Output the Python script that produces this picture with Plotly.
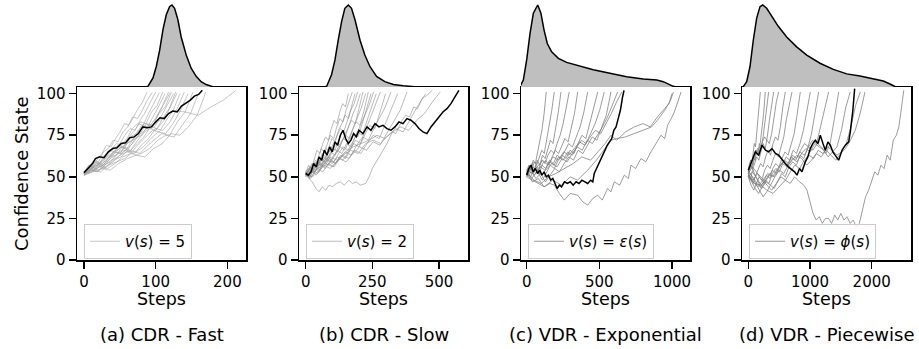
import numpy as np
import plotly.graph_objects as go

W, H = 919, 349

# ---------------- (a) CDR - Fast ----------------
a_black_x = [0, 6, 12, 16, 22, 28, 34, 40, 46, 52, 58, 64, 70, 76, 82, 88, 94, 100, 106, 112, 118, 124, 130, 136, 142, 148, 154, 160, 165]
a_black_y = [52.5, 55, 58, 61, 62, 61.5, 65, 67, 67.5, 70, 70.5, 73.5, 74, 76, 80, 79.5, 80, 83, 85.5, 85, 88, 89.5, 89, 92.5, 94, 96, 98.5, 99.5, 102]
a_gray_ends = [88, 95, 100, 105, 110, 113, 118, 120, 122, 125, 128, 130, 134, 140, 145, 152, 160, 170]
a_gray_vals = [
    [52, 57, 56, 61, 64, 69, 68, 73, 77, 82, 81, 86, 91, 95, 101],
    [53, 56, 60, 59, 65, 67, 72, 71, 77, 80, 86, 85, 90, 96, 100.5],
    [51, 55, 54, 58, 63, 66, 65, 70, 75, 79, 78, 84, 89, 95, 101],
    [52, 54, 59, 58, 61, 66, 70, 69, 73, 79, 82, 81, 88, 94, 100.5],
    [53, 57, 56, 59, 64, 66, 69, 68, 74, 78, 83, 82, 89, 93, 101],
    [51, 54, 57, 56, 60, 65, 68, 67, 74, 76, 81, 80, 87, 93, 100],
    [52, 56, 55, 58, 61, 65, 64, 70, 72, 77, 82, 81, 86, 93, 101],
    [53, 55, 59, 58, 62, 64, 68, 67, 73, 78, 80, 79, 87, 94, 100.5],
    [51, 53, 58, 57, 60, 65, 64, 67, 71, 76, 82, 81, 88, 92, 101],
    [52, 56, 55, 57, 62, 63, 68, 67, 73, 75, 81, 80, 86, 93, 100],
    [52, 54, 53, 56, 61, 63, 66, 65, 71, 76, 79, 78, 85, 91, 101],
    [53, 55, 58, 57, 59, 64, 67, 66, 70, 74, 80, 79, 84, 92, 100.5],
    [51, 54, 53, 57, 60, 62, 66, 65, 70, 74, 78, 77, 84, 90, 100],
    [52, 53, 57, 56, 59, 63, 65, 64, 69, 73, 79, 78, 83, 91, 101],
    [52, 55, 54, 56, 60, 62, 66, 65, 68, 73, 77, 76, 82, 90, 100],
    [51, 53, 56, 55, 58, 62, 64, 63, 68, 72, 76, 75, 83, 89, 101],
    [52, 54, 53, 57, 59, 61, 65, 64, 67, 72, 75, 74, 81, 88, 100.5],
    [51, 53, 55, 54, 58, 61, 63, 62, 67, 70, 76, 75, 80, 87, 101],
]
a_slow_x = [[0, 18, 35, 53, 71, 88, 106, 124, 141, 159, 177, 194, 212]]
a_slow_y = [[52, 57, 63, 68, 73, 79, 84, 90, 89, 87, 92, 96, 102]]
a_kde_x = [86, 89.4, 96.3, 100.9, 105.6, 110.2, 114.8, 119.4, 122.7, 126.4, 131, 135.6, 142.6, 149.5, 156.5, 163.4, 170.4, 179.6, 195, 212]
a_kde_h = [0, 0.01, 0.11, 0.25, 0.45, 0.70, 0.88, 0.98, 1.0, 0.96, 0.82, 0.61, 0.39, 0.23, 0.13, 0.065, 0.03, 0.004, 0.001, 0]

# ---------------- (b) CDR - Slow ----------------
b_black_x = [0, 10, 20, 30, 40, 50, 60, 70, 80, 90, 100, 110, 120, 130, 140, 150, 160, 170, 180, 190, 200, 215, 230, 245, 260, 275, 290, 305, 320, 335, 350, 365, 380, 395, 410, 425, 440, 455, 470, 485, 500, 515, 530, 545, 560, 575]
b_black_y = [52, 51, 53, 58, 56, 62, 60, 66, 63, 68, 65, 71, 69, 75, 78, 73, 70, 72, 76, 74, 78, 76, 80, 78, 82, 80, 81, 79, 78, 80, 83, 82, 85, 84, 82, 79, 77, 76, 80, 83, 86, 89, 91, 94, 98, 102]
b_gray_ends = [160, 175, 185, 195, 205, 215, 225, 235, 245, 255, 265, 280, 300, 320, 345, 380, 450, 505]
b_gray_vals = [
    [52, 57, 55, 61, 66, 64, 70, 74, 72, 79, 84, 82, 89, 94, 92, 100],
    [51, 55, 58, 56, 62, 67, 65, 70, 75, 73, 80, 85, 83, 90, 95, 101],
    [53, 50, 56, 60, 58, 64, 62, 68, 73, 71, 78, 82, 87, 85, 93, 100],
    [52, 55, 53, 59, 57, 63, 67, 65, 70, 75, 79, 77, 84, 90, 94, 101],
    [50, 54, 58, 55, 61, 59, 64, 68, 66, 72, 77, 75, 82, 88, 93, 100],
    [52, 49, 55, 59, 57, 62, 60, 66, 70, 68, 74, 79, 84, 82, 91, 101],
    [51, 55, 52, 57, 61, 59, 63, 67, 65, 71, 75, 73, 80, 86, 92, 100],
    [53, 56, 54, 58, 62, 60, 65, 63, 69, 73, 71, 77, 83, 81, 90, 101],
    [52, 50, 55, 53, 58, 62, 60, 64, 68, 66, 72, 76, 74, 82, 91, 100],
    [50, 53, 57, 55, 59, 57, 62, 66, 64, 70, 68, 74, 80, 86, 93, 101],
    [52, 55, 53, 58, 56, 61, 59, 64, 68, 66, 71, 77, 75, 84, 92, 100],
    [51, 49, 54, 57, 55, 60, 58, 63, 61, 67, 72, 70, 78, 85, 93, 101],
    [52, 54, 51, 56, 60, 58, 62, 60, 65, 70, 68, 75, 81, 79, 90, 100],
    [53, 50, 55, 53, 58, 56, 61, 65, 63, 69, 74, 72, 79, 86, 92, 101],
    [51, 54, 52, 57, 55, 59, 63, 61, 66, 64, 70, 75, 73, 82, 91, 100],
    [52, 50, 54, 58, 56, 61, 59, 64, 68, 66, 71, 69, 76, 83, 90, 101],
    [51, 53, 56, 60, 58, 63, 66, 64, 70, 72, 70, 75, 79, 77, 85, 93, 100],
    [52, 55, 58, 62, 60, 65, 68, 70, 72, 75, 73, 77, 80, 78, 84, 88, 95, 101],
]
b_slow_x = [[0, 12, 25, 38, 50, 62, 75, 88, 100, 115, 130, 145, 162, 175, 190, 205, 225, 238, 250, 268, 287, 305, 325, 338, 350, 362, 375, 390, 405, 420, 437, 455, 475]]
b_slow_y = [[52, 49, 47, 43, 41, 44, 42, 45, 44, 46, 47, 45, 48, 46, 47, 45, 46, 50, 55, 60, 65, 70, 77, 76, 80, 84, 87, 86, 92, 91, 97, 99, 102]]
b_kde_x = [70, 79, 97, 110, 122, 135, 147, 160, 172, 185, 204, 222, 241, 266, 297, 329, 366, 397, 420]
b_kde_h = [0, 0.01, 0.15, 0.33, 0.57, 0.80, 0.96, 1.0, 0.96, 0.82, 0.57, 0.39, 0.25, 0.13, 0.065, 0.03, 0.016, 0.004, 0]

# ---------------- (c) VDR - Exponential ----------------
c_black_x = [0, 15, 30, 45, 60, 75, 90, 105, 120, 135, 150, 165, 180, 195, 210, 225, 240, 260, 280, 300, 320, 340, 360, 380, 400, 420, 440, 455, 465, 480, 495, 510, 525, 540, 555, 570, 585, 600, 615, 630, 645, 660, 670]
c_black_y = [51, 55, 57, 53, 55, 52, 54, 51, 53, 50, 51, 48, 49, 46, 43, 45, 44, 47, 46, 47, 45, 47, 46, 48, 47, 46, 48, 47, 52, 55, 57, 61, 64, 66, 69, 71, 73, 78, 80, 85, 90, 98, 102]
c_gray_ends = [135, 190, 236, 293, 351, 420, 489, 534, 580, 626, 655]
c_gray_vals = [
    [53, 57, 55, 60, 58, 65, 70, 78, 88, 101],
    [51, 56, 54, 59, 57, 62, 66, 64, 72, 80, 90, 101],
    [52, 55, 58, 54, 60, 57, 63, 61, 67, 72, 70, 79, 89, 101],
    [50, 54, 52, 57, 55, 60, 58, 63, 66, 64, 70, 75, 82, 91, 101],
    [54, 57, 53, 56, 52, 58, 60, 57, 62, 66, 64, 69, 73, 71, 79, 88, 101],
    [52, 55, 51, 54, 57, 55, 60, 58, 63, 61, 66, 70, 68, 74, 80, 89, 101],
    [53, 50, 55, 52, 48, 53, 57, 55, 60, 63, 61, 66, 64, 70, 75, 73, 82, 91, 101],
    [51, 55, 52, 56, 54, 59, 57, 62, 60, 65, 63, 68, 72, 70, 76, 82, 90, 101],
    [50, 53, 49, 52, 47, 51, 55, 53, 58, 62, 60, 66, 64, 69, 74, 72, 79, 87, 101],
    [52, 49, 53, 51, 55, 58, 56, 61, 59, 64, 68, 66, 72, 70, 75, 80, 86, 93, 101],
    [54, 52, 56, 60, 57, 62, 60, 65, 63, 67, 71, 69, 74, 78, 76, 82, 88, 95, 101],
]
c_slow_x = [
    [0, 40, 80, 120, 160, 190, 225, 259, 300, 351, 385, 420, 455, 489, 520, 557, 580, 603, 640, 672, 700, 718, 750, 787, 820, 855, 890, 924, 950, 970, 995, 1016, 1040, 1062],
    [0, 60, 120, 180, 240, 300, 350, 420, 480, 530, 580, 620, 680, 740, 800, 860, 900, 950, 990, 1010],
    [0, 50, 100, 150, 200, 260, 320, 380, 440, 500, 540, 580, 620, 680, 740, 800, 850, 900, 940, 980, 1000],
]
c_slow_y = [
    [52, 47, 49, 44, 46, 45, 40, 36, 40, 39, 35, 33, 37, 39, 36, 43, 41, 47, 45, 51, 49, 57, 55, 61, 59, 65, 70, 75, 73, 81, 85, 89, 95, 101],
    [50, 47, 44, 48, 45, 50, 48, 54, 60, 66, 72, 73, 74, 76, 78, 80, 84, 90, 96, 101],
    [53, 48, 46, 50, 52, 55, 58, 62, 60, 66, 70, 75, 72, 77, 80, 82, 80, 86, 90, 94, 100],
]
c_kde_x = [-60, -46, -23, 0, 23, 46, 76, 98, 119, 142, 172, 218, 275, 367, 458, 573, 688, 803, 895, 940, 975, 1009, 1032]
c_kde_h = [0, 0.004, 0.085, 0.33, 0.65, 0.90, 1.0, 0.90, 0.70, 0.53, 0.43, 0.35, 0.30, 0.25, 0.21, 0.167, 0.126, 0.098, 0.085, 0.065, 0.037, 0.008, 0]

# ---------------- (d) VDR - Piecewise ----------------
d_black_x = [0, 60, 114, 170, 222, 280, 330, 384, 440, 492, 550, 600, 650, 708, 750, 789, 830, 870, 924, 965, 1005, 1045, 1086, 1130, 1167, 1210, 1248, 1290, 1329, 1370, 1410, 1465, 1519, 1572, 1627, 1653, 1692, 1724]
d_black_y = [54, 60, 65, 63, 69, 66, 65, 67, 64, 63, 60, 58, 56, 54, 53, 51, 55, 53, 59, 62, 67, 70, 72, 70, 75, 70, 66, 71, 69, 65, 63, 60, 66, 69, 71, 77, 89, 103]
d_gray_ends = [195, 276, 330, 411, 492, 600, 708, 843, 1005, 1140, 1302, 1465, 1653, 1815, 1891]
d_gray_vals = [
    [52, 56, 60, 58, 64, 70, 68, 76, 85, 93, 101],
    [50, 55, 59, 62, 60, 66, 64, 70, 78, 88, 101],
    [53, 58, 55, 62, 66, 63, 70, 68, 74, 82, 92, 101],
    [51, 48, 54, 58, 62, 60, 66, 70, 67, 74, 84, 93, 101],
    [55, 60, 57, 63, 67, 65, 71, 74, 72, 70, 76, 86, 95, 101],
    [52, 49, 46, 51, 55, 58, 56, 62, 66, 63, 70, 74, 72, 80, 92, 101],
    [50, 45, 42, 46, 50, 48, 54, 57, 55, 60, 64, 62, 68, 74, 85, 94, 101],
    [53, 57, 52, 48, 44, 47, 51, 49, 55, 58, 56, 61, 65, 63, 70, 76, 88, 101],
    [51, 47, 43, 40, 44, 48, 46, 52, 55, 53, 58, 62, 60, 66, 64, 70, 78, 90, 101],
    [54, 50, 46, 42, 38, 41, 45, 43, 48, 52, 50, 56, 59, 57, 63, 61, 67, 75, 88, 101],
    [52, 56, 53, 49, 46, 50, 54, 52, 57, 60, 58, 63, 61, 66, 70, 68, 72, 70, 80, 91, 101],
    [50, 53, 49, 45, 48, 52, 50, 55, 59, 57, 62, 60, 65, 63, 68, 66, 70, 68, 64, 70, 85, 101],
    [53, 50, 46, 43, 47, 45, 50, 54, 52, 57, 61, 59, 64, 67, 65, 70, 68, 66, 62, 65, 68, 78, 92, 101],
    [51, 48, 52, 49, 45, 42, 46, 50, 48, 53, 57, 55, 60, 63, 61, 66, 64, 68, 66, 63, 65, 70, 80, 93, 101],
    [52, 47, 44, 48, 52, 50, 55, 58, 56, 60, 63, 61, 57, 60, 64, 62, 66, 63, 60, 64, 67, 72, 78, 88, 101],
]
d_slow_x = [[0, 100, 200, 300, 400, 500, 600, 680, 750, 830, 900, 950, 1000, 1050, 1100, 1150, 1200, 1250, 1300, 1350, 1400, 1450, 1500, 1550, 1600, 1650, 1700, 1750, 1800, 1850, 1900, 1950, 2000, 2050, 2100, 2150, 2200, 2250, 2300, 2350, 2400, 2440, 2470, 2500, 2520]]
d_slow_y = [[50, 46, 45, 42, 40, 44, 48, 46, 50, 47, 45, 42, 35, 28, 24, 26, 22, 25, 25, 22, 27, 24, 28, 24, 26, 22, 24, 20, 22, 30, 38, 42, 48, 53, 51, 57, 55, 63, 60, 72, 75, 80, 88, 96, 102]]
d_kde_x = [-100, -81, -26, 28, 81, 136, 190, 233, 298, 379, 486, 622, 784, 947, 1162, 1378, 1595, 1810, 2026, 2188, 2297, 2361, 2390]
d_kde_h = [0, 0.004, 0.065, 0.25, 0.57, 0.84, 0.98, 1.0, 0.96, 0.86, 0.74, 0.61, 0.49, 0.39, 0.29, 0.215, 0.16, 0.134, 0.10, 0.073, 0.037, 0.008, 0]

x_ranges = [[-9.7, 226], [-25, 609], [-39, 1124], [-102, 2637]]
x_ticks = [[0, 100, 200], [0, 250, 500], [0, 500, 1000], [0, 1000, 2000]]
y_ticks = [0, 25, 50, 75, 100]
legend_names = ["<i>v</i>(<i>s</i>) = 5", "<i>v</i>(<i>s</i>) = 2",
                "<i>v</i>(<i>s</i>) = <i>ε</i>(<i>s</i>)", "<i>v</i>(<i>s</i>) = <i>ϕ</i>(<i>s</i>)"]
captions = ["(a) CDR - Fast", "(b) CDR - Slow", "(c) VDR - Exponential", "(d) VDR - Piecewise"]

panels = [
    (a_black_x, a_black_y, a_gray_ends, a_gray_vals, a_slow_x, a_slow_y, a_kde_x, a_kde_h),
    (b_black_x, b_black_y, b_gray_ends, b_gray_vals, b_slow_x, b_slow_y, b_kde_x, b_kde_h),
    (c_black_x, c_black_y, c_gray_ends, c_gray_vals, c_slow_x, c_slow_y, c_kde_x, c_kde_h),
    (d_black_x, d_black_y, d_gray_ends, d_gray_vals, d_slow_x, d_slow_y, d_kde_x, d_kde_h),
]

# layout geometry (pixels)
box_left = [77, 299, 521, 742]
box_w = 169
box_top, box_bot = 87, 260
gray_cols = ["rgba(160,160,160,0.75)", "rgba(140,140,140,0.75)", "rgba(125,125,125,0.85)", "rgba(125,125,125,0.85)"]
gray_w = [0.8, 0.8, 0.9, 0.9]

def px(x):
    return x / W

def py(y):
    return 1 - y / H

fig = go.Figure()
layout = dict(
    width=W, height=H, margin=dict(l=0, r=0, t=0, b=0),
    paper_bgcolor="white", plot_bgcolor="white", template="none",
    font=dict(family="DejaVu Sans", color="black", size=15),
    showlegend=True,
)
annotations = []

for i, (bx, by, gends, gvals, sx, sy, kx, kh) in enumerate(panels):
    n = i + 1
    xm = "x" if n == 1 else f"x{n}"
    ym = "y" if n == 1 else f"y{n}"
    xk = f"x{n + 4}"
    yk = f"y{n + 4}"
    leg = "legend" if n == 1 else f"legend{n}"
    first = True
    lines = [(np.linspace(0, e, len(v)), v) for e, v in zip(gends, gvals)] + list(zip(sx, sy))
    for lx, ly in lines:
        fig.add_trace(go.Scatter(
            x=lx, y=ly, mode="lines", xaxis=xm, yaxis=ym,
            line=dict(color=gray_cols[i], width=gray_w[i]),
            name=legend_names[i], showlegend=first, legend=leg, hoverinfo="skip"))
        first = False
    fig.add_trace(go.Scatter(x=bx, y=by, mode="lines", xaxis=xm, yaxis=ym,
                             line=dict(color="black", width=1.5), showlegend=False))
    fig.add_trace(go.Scatter(x=kx, y=kh, mode="lines", xaxis=xk, yaxis=yk, fill="tozeroy",
                             fillcolor="#bfbfbf", line=dict(color="black", width=1.5),
                             showlegend=False))
    dom_x = [px(box_left[i]), px(box_left[i] + box_w)]
    axis_common = dict(showline=True, mirror=True, linecolor="black", linewidth=1.5,
                       ticks="outside", ticklen=7, tickwidth=1.5, tickcolor="black",
                       showgrid=False, zeroline=False, tickfont=dict(size=15))
    layout["xaxis" if n == 1 else f"xaxis{n}"] = dict(
        domain=dom_x, range=x_ranges[i], tickvals=x_ticks[i], anchor=ym, **axis_common)
    layout["yaxis" if n == 1 else f"yaxis{n}"] = dict(
        domain=[py(box_bot), py(box_top)], range=[0, 104], tickvals=y_ticks, anchor=xm, **axis_common)
    layout[f"xaxis{n + 4}"] = dict(domain=dom_x, matches=xm, visible=False, anchor=yk)
    layout[f"yaxis{n + 4}"] = dict(domain=[py(box_top), 1.0], range=[0, 1.061], visible=False, anchor=xk)
    layout[leg] = dict(
        x=px(box_left[i] + 7), y=py(224), xanchor="left", yanchor="top",
        bgcolor="rgba(255,255,255,0.8)", bordercolor="#cccccc", borderwidth=1,
        font=dict(size=15), itemwidth=30, tracegroupgap=0)
    cx = px(box_left[i] + box_w / 2)
    annotations.append(dict(text="Steps", x=cx, y=py(299), xref="paper", yref="paper",
                            showarrow=False, font=dict(size=17.5), xanchor="center", yanchor="middle"))
    annotations.append(dict(text=captions[i], x=cx, y=py(334), xref="paper", yref="paper",
                            showarrow=False, font=dict(size=18), xanchor="center", yanchor="middle"))

annotations.append(dict(text="Confidence State", x=px(21), y=py(174), xref="paper", yref="paper",
                        showarrow=False, textangle=-90, font=dict(size=18),
                        xanchor="center", yanchor="middle"))
layout["annotations"] = annotations
fig.update_layout(**layout)
fig.write_html("out.html", config={"displayModeBar": False, "staticPlot": True},
               post_script="document.body.style.margin='0';document.body.style.overflow='hidden';")
